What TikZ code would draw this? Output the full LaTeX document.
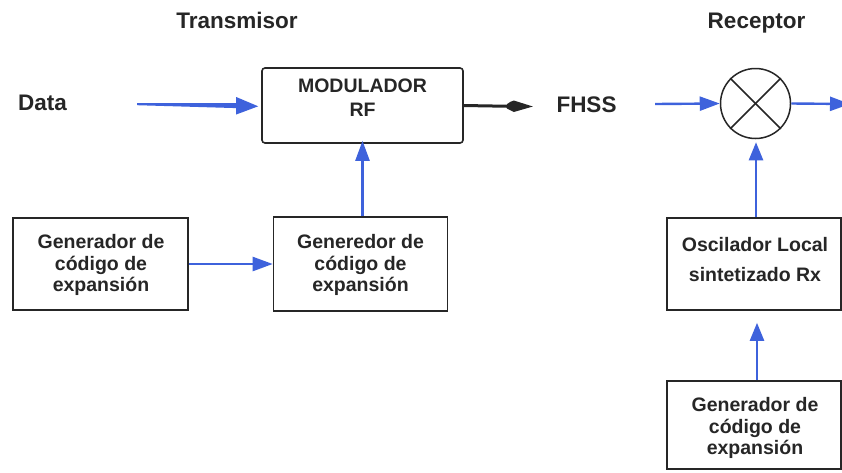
\documentclass[tikz,border=0pt]{standalone}
\usepackage{fontspec}
\setmainfont{Liberation Sans}
\usetikzlibrary{arrows.meta,calc}
\definecolor{sigblue}{RGB}{62,98,220}
\definecolor{ink}{RGB}{38,38,38}
\tikzset{
  box/.style={draw=ink,line width=1.6pt,fill=white,inner sep=0pt},
  boxtext/.style={align=center,inner sep=0pt,text=ink,
    font=\fontsize{19.5}{21.8}\selectfont\bfseries},
  lbl/.style={inner sep=0pt,text=ink,anchor=base,
    font=\fontsize{22.5}{24}\selectfont\bfseries},
  sig/.style={draw=sigblue,line width=2.4pt,
    -{Triangle[length=20pt,width=14pt]}},
}
\begin{document}
\begin{tikzpicture}[x=1pt,y=-1pt]
\clip (0,0) rectangle (842,472);
\fill[white] (0,0) rectangle (842,472);

% section titles and signal labels
\node[lbl] (ttx) at (237,28.5) {Transmisor};
\node[lbl] (trx) at (756.5,28.3) {Receptor};
\node[lbl] (ldata) at (42.5,110) {Data};
\node[lbl] (lfhss) at (586.5,112) {FHSS};

% transmitter blocks
\node[box,rounded corners=3pt,minimum width=201pt,minimum height=75pt] (mod) at (362.5,105.5) {};
\node[boxtext,font=\fontsize{19.5}{24}\selectfont\bfseries] (modt) at (362.5,97.5) {MODULADOR\\RF};

\node[box,minimum width=175pt,minimum height=92pt] (genl) at (100.5,264) {};
\node[boxtext] (genlt) at (101,265) {Generador de\\código de\\expansión};

\node[box,minimum width=174pt,minimum height=94pt] (genm) at (360.5,264) {};
\node[boxtext] (genmt) at (360.5,265) {Generedor de\\código de\\expansión};

% receiver blocks
\node[draw=ink,line width=1.5pt,circle,minimum size=70pt,inner sep=0pt] (mix) at (755.5,103.5) {};
\draw[ink,line width=1.5pt] (mix.north west) -- (mix.south east);
\draw[ink,line width=1.5pt] (mix.north east) -- (mix.south west);

\node[box,minimum width=174pt,minimum height=92pt] (osc) at (754,264) {};
\node[boxtext,font=\fontsize{19.5}{30}\selectfont\bfseries] (osct) at (755,260) {Oscilador Local\\sintetizado Rx};

\node[box,minimum width=174pt,minimum height=88pt] (genb) at (754,425) {};
\node[boxtext] (genbt) at (755,428) {Generador de\\código de\\expansión};

% free ends of the signal paths
\coordinate (din) at (137,104);
\coordinate (fin) at (655,104);
\coordinate (rout) at (850,104);

% tapered data arrow into the modulator
\fill[sigblue] ($(din)+(0,-1)$) -- ($(mod.west)+(-25,-2.4)$) -- ($(mod.west)+(-25,-8.5)$)
  -- ($(mod.west)+(-3,0.8)$) -- ($(mod.west)+(-25,9)$) -- ($(mod.west)+(-25,2.6)$)
  -- ($(din)+(0,1.2)$) -- cycle;

% modulator output with spear head
\draw[ink,line width=3pt] (mod.east) -- ++(46,0.8);
\fill[ink] ($(mod.east)+(43,-1.2)$) .. controls ($(mod.east)+(47,-4)$) .. ($(mod.east)+(50,-5)$)
  -- ($(mod.east)+(69,1)$) -- ($(mod.east)+(50,6.5)$)
  .. controls ($(mod.east)+(47,5.5)$) .. ($(mod.east)+(43,3)$) -- cycle;

% spreading code paths
\draw[sig] (genl.east) -- (genm.west);
\draw[sig,shorten >=-3pt] (genm.north -| mod.south) -- (mod.south);

% receiver paths
\draw[sig] (fin) -- (mix.west);
\draw[sig] (mix.east) -- (rout);
\draw[sig,-{Triangle[length=18pt,width=14pt]},shorten >=3pt] ($(osc.north)+(2,0)$) -- ($(mix.south)+(0.5,0)$);
\draw[sig,-{Triangle[length=18pt,width=14pt]},shorten >=12pt] ($(genb.north)+(3,0)$) -- ($(osc.south)+(3,0)$);
\end{tikzpicture}
\end{document}
